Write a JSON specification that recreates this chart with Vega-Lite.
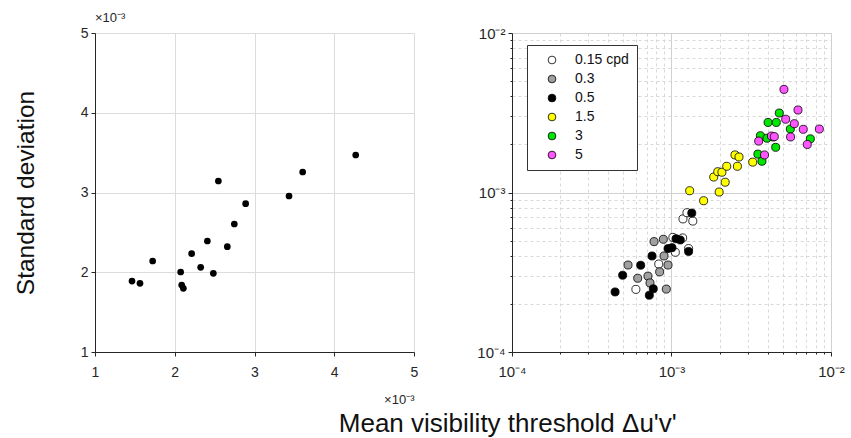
{
  "$schema": "https://vega.github.io/schema/vega-lite/v6.json",
  "background": "white",
  "padding": {"left": 13, "top": 12, "right": 5, "bottom": 0},
  "config": {
    "font": "Liberation Sans",
    "view": {"stroke": null},
    "axis": {"labelFont": "Liberation Sans", "titleFont": "Liberation Sans", "labelColor": "#262626", "titleColor": "#111", "domainColor": "#262626", "tickColor": "#262626", "gridColor": "#dcdcdc", "labelFontSize": 14, "labelFlush": false, "labelOverlap": false, "tickSize": 4},
    "title": {"font": "Liberation Sans", "fontWeight": "normal", "color": "#111"},
    "concat": {"spacing": 58}
  },
  "resolve": {"legend": {"fill": "independent"}},
  "title": {"text": "Mean visibility threshold Δu'v'", "orient": "bottom", "anchor": "middle", "fontSize": 26, "fontWeight": "normal", "offset": 5, "dx": 79},
  "datasets": {
    "left": [
      {"threshold": 0.001464, "sd": 0.001890},
      {"threshold": 0.001564, "sd": 0.001861},
      {"threshold": 0.001723, "sd": 0.002141},
      {"threshold": 0.002074, "sd": 0.002003},
      {"threshold": 0.002087, "sd": 0.001840},
      {"threshold": 0.002108, "sd": 0.001798},
      {"threshold": 0.002212, "sd": 0.002233},
      {"threshold": 0.002325, "sd": 0.002062},
      {"threshold": 0.002409, "sd": 0.002392},
      {"threshold": 0.002484, "sd": 0.001986},
      {"threshold": 0.002547, "sd": 0.003144},
      {"threshold": 0.002659, "sd": 0.002321},
      {"threshold": 0.002747, "sd": 0.002605},
      {"threshold": 0.002889, "sd": 0.002860},
      {"threshold": 0.003433, "sd": 0.002956},
      {"threshold": 0.003604, "sd": 0.003257},
      {"threshold": 0.004269, "sd": 0.003470}
    ],
    "right": [
      {"threshold": 0.000598, "sd": 0.000247, "freq": "0.15 cpd"},
      {"threshold": 0.000832, "sd": 0.000356, "freq": "0.15 cpd"},
      {"threshold": 0.001057, "sd": 0.000422, "freq": "0.15 cpd"},
      {"threshold": 0.001020, "sd": 0.000523, "freq": "0.15 cpd"},
      {"threshold": 0.001175, "sd": 0.000519, "freq": "0.15 cpd"},
      {"threshold": 0.001280, "sd": 0.000445, "freq": "0.15 cpd"},
      {"threshold": 0.001180, "sd": 0.000683, "freq": "0.15 cpd"},
      {"threshold": 0.001250, "sd": 0.000747, "freq": "0.15 cpd"},
      {"threshold": 0.001360, "sd": 0.000662, "freq": "0.15 cpd"},
      {"threshold": 0.000534, "sd": 0.000351, "freq": "0.3"},
      {"threshold": 0.000614, "sd": 0.000290, "freq": "0.3"},
      {"threshold": 0.000712, "sd": 0.000299, "freq": "0.3"},
      {"threshold": 0.000733, "sd": 0.000271, "freq": "0.3"},
      {"threshold": 0.000777, "sd": 0.000492, "freq": "0.3"},
      {"threshold": 0.000889, "sd": 0.000509, "freq": "0.3"},
      {"threshold": 0.000898, "sd": 0.000400, "freq": "0.3"},
      {"threshold": 0.000951, "sd": 0.000351, "freq": "0.3"},
      {"threshold": 0.000843, "sd": 0.000318, "freq": "0.3"},
      {"threshold": 0.000928, "sd": 0.000248, "freq": "0.3"},
      {"threshold": 0.000443, "sd": 0.000238, "freq": "0.5"},
      {"threshold": 0.000494, "sd": 0.000303, "freq": "0.5"},
      {"threshold": 0.000641, "sd": 0.000350, "freq": "0.5"},
      {"threshold": 0.000755, "sd": 0.000400, "freq": "0.5"},
      {"threshold": 0.000726, "sd": 0.000227, "freq": "0.5"},
      {"threshold": 0.000769, "sd": 0.000249, "freq": "0.5"},
      {"threshold": 0.000951, "sd": 0.000445, "freq": "0.5"},
      {"threshold": 0.001007, "sd": 0.000451, "freq": "0.5"},
      {"threshold": 0.001067, "sd": 0.000513, "freq": "0.5"},
      {"threshold": 0.001135, "sd": 0.000504, "freq": "0.5"},
      {"threshold": 0.001280, "sd": 0.000427, "freq": "0.5"},
      {"threshold": 0.001340, "sd": 0.000743, "freq": "0.5"},
      {"threshold": 0.001300, "sd": 0.001026, "freq": "1.5"},
      {"threshold": 0.001590, "sd": 0.000888, "freq": "1.5"},
      {"threshold": 0.001990, "sd": 0.001007, "freq": "1.5"},
      {"threshold": 0.002170, "sd": 0.001160, "freq": "1.5"},
      {"threshold": 0.001840, "sd": 0.001250, "freq": "1.5"},
      {"threshold": 0.001950, "sd": 0.001350, "freq": "1.5"},
      {"threshold": 0.002070, "sd": 0.001340, "freq": "1.5"},
      {"threshold": 0.002220, "sd": 0.001460, "freq": "1.5"},
      {"threshold": 0.002590, "sd": 0.001460, "freq": "1.5"},
      {"threshold": 0.002500, "sd": 0.001720, "freq": "1.5"},
      {"threshold": 0.002650, "sd": 0.001670, "freq": "1.5"},
      {"threshold": 0.003230, "sd": 0.001550, "freq": "1.5"},
      {"threshold": 0.004740, "sd": 0.003150, "freq": "3"},
      {"threshold": 0.004030, "sd": 0.002750, "freq": "3"},
      {"threshold": 0.004540, "sd": 0.002750, "freq": "3"},
      {"threshold": 0.005560, "sd": 0.002500, "freq": "3"},
      {"threshold": 0.003610, "sd": 0.002270, "freq": "3"},
      {"threshold": 0.003970, "sd": 0.002190, "freq": "3"},
      {"threshold": 0.004330, "sd": 0.002230, "freq": "3"},
      {"threshold": 0.007420, "sd": 0.002170, "freq": "3"},
      {"threshold": 0.004500, "sd": 0.001920, "freq": "3"},
      {"threshold": 0.003480, "sd": 0.001740, "freq": "3"},
      {"threshold": 0.003690, "sd": 0.001570, "freq": "3"},
      {"threshold": 0.005070, "sd": 0.004430, "freq": "5"},
      {"threshold": 0.006210, "sd": 0.003290, "freq": "5"},
      {"threshold": 0.005200, "sd": 0.002880, "freq": "5"},
      {"threshold": 0.005890, "sd": 0.002700, "freq": "5"},
      {"threshold": 0.006700, "sd": 0.002490, "freq": "5"},
      {"threshold": 0.008450, "sd": 0.002500, "freq": "5"},
      {"threshold": 0.005580, "sd": 0.002230, "freq": "5"},
      {"threshold": 0.007100, "sd": 0.002000, "freq": "5"},
      {"threshold": 0.004230, "sd": 0.002260, "freq": "5"},
      {"threshold": 0.004410, "sd": 0.002240, "freq": "5"},
      {"threshold": 0.003520, "sd": 0.002100, "freq": "5"},
      {"threshold": 0.003830, "sd": 0.001720, "freq": "5"}
    ]
  },
  "hconcat": [
    {
      "width": 319,
      "height": 319,
      "title": {"text": "×10⁻³", "anchor": "start", "frame": "group", "fontSize": 13, "fontWeight": "normal", "offset": 1, "color": "#262626"},
      "data": {"name": "left"},
      "mark": {"type": "circle", "size": 45, "color": "black", "opacity": 1},
      "encoding": {
        "x": {"field": "threshold", "type": "quantitative",
              "scale": {"type": "linear", "domain": [0.001, 0.005], "nice": false, "zero": false},
              "axis": {"values": [0.001, 0.002, 0.003, 0.004, 0.005], "labelExpr": "format(datum.value*1000, '.0f')", "title": "×10⁻³", "titleAnchor": "end", "titleFontSize": 13, "titleFontWeight": "normal", "titleColor": "#262626", "titlePadding": 14, "labelPadding": 9}},
        "y": {"field": "sd", "type": "quantitative",
              "scale": {"type": "linear", "domain": [0.001, 0.005], "nice": false, "zero": false},
              "axis": {"values": [0.001, 0.002, 0.003, 0.004, 0.005], "labelExpr": "format(datum.value*1000, '.0f')", "title": "Standard deviation", "titleFontSize": 24.5, "titleFontWeight": "normal", "titlePadding": 42, "labelPadding": 3}}
      }
    },
    {
      "width": 319,
      "height": 319,
      "data": {"name": "right"},
      "mark": {"type": "point", "shape": "circle", "filled": true, "size": 65, "stroke": "black", "strokeWidth": 0.8, "opacity": 1},
      "encoding": {
        "x": {"field": "threshold", "type": "quantitative",
              "scale": {"type": "log", "domain": [0.0001, 0.01], "nice": false},
              "axis": {"values": [0.0001, 0.0002, 0.0003, 0.0004, 0.0005, 0.0006, 0.0007, 0.0008, 0.0009, 0.001, 0.002, 0.003, 0.004, 0.005, 0.006, 0.007, 0.008, 0.009, 0.01],
                       "labelExpr": "datum.value < 0.00015 ? '10⁻⁴' : (abs(datum.value - 0.001) < 1e-9 ? '10⁻³' : (abs(datum.value - 0.01) < 1e-9 ? '10⁻²' : ''))",
                       "title": null, "labelFontSize": 15, "labelPadding": 8,
                       "gridDash": {"condition": {"test": "datum.value < 0.00015 || abs(datum.value - 0.001) < 1e-9 || abs(datum.value - 0.01) < 1e-9", "value": []}, "value": [3, 3]},
                       "gridColor": {"condition": {"test": "datum.value < 0.00015 || abs(datum.value - 0.001) < 1e-9 || abs(datum.value - 0.01) < 1e-9", "value": "#d0d0d0"}, "value": "#d8d8d8"},
                       "tickSize": {"condition": {"test": "datum.value < 0.00015 || abs(datum.value - 0.001) < 1e-9 || abs(datum.value - 0.01) < 1e-9", "value": 4}, "value": 2}}},
        "y": {"field": "sd", "type": "quantitative",
              "scale": {"type": "log", "domain": [0.0001, 0.01], "nice": false},
              "axis": {"values": [0.0001, 0.0002, 0.0003, 0.0004, 0.0005, 0.0006, 0.0007, 0.0008, 0.0009, 0.001, 0.002, 0.003, 0.004, 0.005, 0.006, 0.007, 0.008, 0.009, 0.01],
                       "labelExpr": "datum.value < 0.00015 ? '10⁻⁴' : (abs(datum.value - 0.001) < 1e-9 ? '10⁻³' : (abs(datum.value - 0.01) < 1e-9 ? '10⁻²' : ''))",
                       "title": null, "labelFontSize": 15, "labelPadding": 3,
                       "gridDash": {"condition": {"test": "datum.value < 0.00015 || abs(datum.value - 0.001) < 1e-9 || abs(datum.value - 0.01) < 1e-9", "value": []}, "value": [3, 3]},
                       "gridColor": {"condition": {"test": "datum.value < 0.00015 || abs(datum.value - 0.001) < 1e-9 || abs(datum.value - 0.01) < 1e-9", "value": "#d0d0d0"}, "value": "#d8d8d8"},
                       "tickSize": {"condition": {"test": "datum.value < 0.00015 || abs(datum.value - 0.001) < 1e-9 || abs(datum.value - 0.01) < 1e-9", "value": 4}, "value": 2}}},
        "fill": {"field": "freq", "type": "nominal",
                 "scale": {"domain": ["0.15 cpd", "0.3", "0.5", "1.5", "3", "5"], "range": ["#ffffff", "#a0a0a0", "#000000", "#ffff00", "#00e600", "#ff55ff"]},
                 "legend": {"orient": "none", "legendX": 15, "legendY": 12, "title": null, "strokeColor": "#333", "fillColor": "white", "padding": 8, "labelFontSize": 14, "labelColor": "#111", "symbolSize": 60, "symbolType": "circle", "symbolStrokeColor": "black", "symbolStrokeWidth": 0.8, "symbolOffset": 10, "labelOffset": 16, "rowPadding": 5}}
      }
    }
  ]
}
